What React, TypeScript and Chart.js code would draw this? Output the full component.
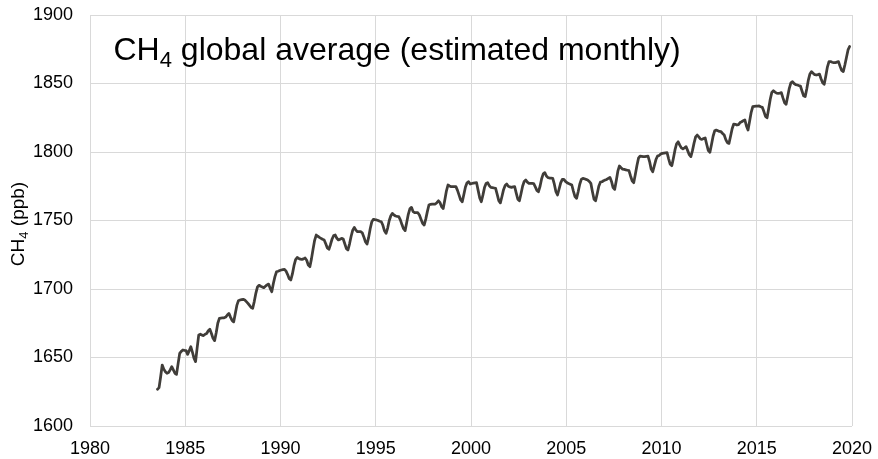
import React, { useEffect, useRef } from "react";
import { Chart, registerables } from "chart.js";

Chart.register(...registerables);

// Monthly CH4 global average (ppb), starting July 1983
const startYear = 1983;
const startMonth = 7;

const ch4_1980s = [
  1626.8, 1628, 1636, 1644.5, 1641.5, 1639.6,
  1638.5, 1639, 1641, 1643.3, 1641, 1638.5, 1637.7, 1645.5, 1653, 1654.5, 1655.5, 1655.2,
  1655, 1652.3, 1655, 1657.9, 1654, 1649.5, 1647, 1657, 1666.5, 1667, 1666.3, 1666,
  1667, 1667.5, 1669.5, 1670.6, 1667.5, 1664, 1662.3, 1668, 1675, 1678.6, 1678.8, 1679,
  1679, 1679.5, 1681, 1682.2, 1679.5, 1677, 1676, 1682, 1688, 1691.5, 1692, 1692.3,
  1692.5, 1692, 1690.8, 1689.5, 1688, 1686.5, 1685.9, 1691, 1697, 1701.5, 1702.7, 1702,
  1701.5, 1701, 1702, 1703, 1703.6, 1700.5, 1698, 1704, 1709, 1712.6, 1713, 1713.5,
];

const ch4_1990s = [
  1713.9, 1714.2, 1714.4, 1713, 1710.5, 1707.5, 1706.6, 1711, 1717, 1721.5, 1723, 1722.3,
  1721.8, 1721.6, 1722, 1722.6, 1721, 1717.5, 1716.3, 1722, 1729, 1735.5, 1739.4, 1738.5,
  1737.7, 1737, 1736.3, 1735.8, 1733, 1730, 1729, 1732.5, 1736.5, 1739, 1739.4, 1737,
  1735.8, 1736.3, 1737, 1736.5, 1733, 1729.5, 1728.5, 1733, 1738.5, 1743, 1745, 1743,
  1741.8, 1741.8, 1741.8, 1741, 1738, 1734.5, 1732.8, 1737.5, 1744, 1749, 1750.9, 1750.6,
  1750.4, 1750, 1749.5, 1749.1, 1746.5, 1742.5, 1740.6, 1744.5, 1750, 1753.5, 1755.2, 1754,
  1753.3, 1753, 1752.8, 1750.5, 1747, 1744, 1742.6, 1748.5, 1754.5, 1758.5, 1759.6, 1756.5,
  1755.7, 1755.7, 1755.7, 1754, 1751, 1748, 1746.7, 1751, 1756.5, 1761.3, 1761.8, 1762,
  1762, 1762, 1763, 1764.4, 1763, 1760, 1758.8, 1765, 1771.5, 1775.9, 1775.2, 1774.7,
  1774.7, 1774.7, 1774.7, 1772, 1768.5, 1765, 1763.7, 1769, 1774.5, 1777.5, 1778.3, 1776.6,
];

const ch4_2000s = [
  1777, 1777.3, 1777.5, 1777.6, 1772, 1766.5, 1763.7, 1768.5, 1774, 1777, 1777.6, 1775.5,
  1774.2, 1774, 1773.7, 1773.4, 1769, 1764.5, 1762.9, 1767.5, 1772.5, 1775.5, 1776.6, 1775,
  1774.5, 1774.2, 1774.5, 1774.7, 1770, 1765.5, 1764.4, 1769.5, 1775, 1778.5, 1779.6, 1778,
  1777.1, 1777.1, 1777.1, 1777, 1774.5, 1772, 1771, 1775, 1780.5, 1784, 1784.9, 1782.5,
  1781.3, 1781, 1780.9, 1780.8, 1776.5, 1771, 1768.6, 1773, 1777.5, 1780, 1780, 1778.5,
  1777.6, 1777, 1776.5, 1775.9, 1771.5, 1767.5, 1766.2, 1771, 1776.5, 1780, 1780.8, 1780.5,
  1780, 1779.6, 1778.5, 1777.1, 1771, 1765.5, 1764.4, 1769.5, 1775, 1778, 1778.3, 1779,
  1779.5, 1780, 1780.8, 1781.5, 1778.5, 1774, 1772.7, 1779, 1786, 1789.8, 1788.5, 1787.5,
  1787.3, 1787, 1786.7, 1786.4, 1782.5, 1779, 1777.6, 1783.5, 1790, 1795.5, 1797, 1796.8,
  1796.6, 1796.6, 1796.8, 1797, 1793, 1787.5, 1785.6, 1790, 1794.5, 1797, 1797.5, 1798.5,
];

const ch4_2010s = [
  1799, 1799.2, 1799.4, 1799.5, 1795, 1791, 1790, 1795.5, 1801.5, 1806, 1807.5, 1805,
  1803, 1802.3, 1803, 1803.9, 1801, 1798, 1796.6, 1801, 1806.5, 1811, 1812.4, 1811,
  1809.5, 1809.2, 1809.8, 1810.3, 1805.5, 1801, 1799.8, 1805.5, 1811.5, 1815.5, 1816, 1815.5,
  1815, 1814.8, 1813.5, 1812.4, 1809, 1806.8, 1806.3, 1811.5, 1817, 1820.4, 1820.2, 1819.7,
  1820, 1821.5, 1822.1, 1822.8, 1823.4, 1819, 1816, 1822.5, 1829, 1833.1, 1833.3, 1833.4,
  1833.5, 1833.6, 1833, 1832.6, 1829.5, 1826, 1825, 1831.5, 1838.5, 1843.5, 1844.7, 1843.7,
  1843, 1842.8, 1843, 1843.3, 1839.5, 1836, 1834.8, 1840.5, 1846.5, 1850.5, 1851.3, 1850,
  1849.2, 1848.9, 1848.5, 1848.2, 1844.5, 1841, 1840.4, 1846, 1852.5, 1857, 1858.7, 1857.5,
  1856.5, 1856.2, 1856.5, 1856.9, 1853.5, 1850.5, 1849.4, 1855.5, 1862, 1866, 1866, 1865.5,
  1865.2, 1865.2, 1865.6, 1866, 1862.5, 1859.5, 1858.7, 1863.5, 1869, 1874.5, 1877,
];

const xTicks = [1980, 1985, 1990, 1995, 2000, 2005, 2010, 2015, 2020];
const yTicks = [1600, 1650, 1700, 1750, 1800, 1850, 1900];

const titleParts: [string, boolean][] = [
  ["CH", false],
  ["4", true],
  [" global average (estimated monthly)", false],
];
const yTitleParts: [string, boolean][] = [
  ["CH", false],
  ["4", true],
  [" (ppb)", false],
];

const FONT = "'Liberation Sans', Arial, Helvetica, sans-serif";

function drawParts(
  ctx: CanvasRenderingContext2D,
  parts: [string, boolean][],
  x: number,
  y: number,
  size: number,
  subSize: number,
  subDy: number,
  align: "left" | "center"
) {
  const widths = parts.map(([t, sub]) => {
    ctx.font = `${sub ? subSize : size}px ${FONT}`;
    return ctx.measureText(t).width;
  });
  const total = widths.reduce((a, b) => a + b, 0);
  let cx = align === "center" ? x - total / 2 : x;
  ctx.textAlign = "left";
  ctx.textBaseline = "alphabetic";
  parts.forEach(([t, sub], i) => {
    ctx.font = `${sub ? subSize : size}px ${FONT}`;
    ctx.fillText(t, cx, sub ? y + subDy : y);
    cx += widths[i];
  });
}

const textPlugin = {
  id: "textPlugin",
  afterDraw(chart: any) {
    const ctx: CanvasRenderingContext2D = chart.ctx;
    ctx.save();
    ctx.fillStyle = "#000000";
    drawParts(ctx, titleParts, 113.5, 59.5, 32, 22, 7.5, "left");
    ctx.restore();

    ctx.save();
    ctx.fillStyle = "#000000";
    ctx.translate(24, 224);
    ctx.rotate(-Math.PI / 2);
    drawParts(ctx, yTitleParts, 0, 0, 19, 13, 4, "center");
    ctx.restore();
  },
};

export default function App() {
  const canvasRef = useRef<HTMLCanvasElement | null>(null);

  useEffect(() => {
    const canvas = canvasRef.current;
    if (!canvas) return;
    const values = [...ch4_1980s, ...ch4_1990s, ...ch4_2000s, ...ch4_2010s];
    const points = values.map((v, i) => {
      const m = startMonth - 1 + i;
      return { x: startYear + (m + 0.5) / 12, y: v };
    });

    const chart = new Chart(canvas, {
      type: "line",
      data: {
        datasets: [
          {
            data: points,
            borderColor: "#403d39",
            borderWidth: 2.75,
            pointRadius: 0,
            pointHoverRadius: 0,
            tension: 0,
            fill: false,
            borderJoinStyle: "round",
            borderCapStyle: "round",
          },
        ],
      },
      options: {
        responsive: false,
        animation: false,
        devicePixelRatio: 1,
        layout: { padding: { left: 0, top: 15, right: 26, bottom: 0 } },
        plugins: {
          legend: { display: false },
          tooltip: { enabled: false },
          title: { display: false },
        },
        scales: {
          x: {
            type: "linear",
            min: 1980,
            max: 2020,
            afterBuildTicks: (scale: any) => {
              scale.ticks = xTicks.map((v) => ({ value: v }));
            },
            afterFit: (scale: any) => {
              scale.height = 33;
              scale.paddingLeft = 0;
              scale.paddingRight = 0;
              scale.paddingTop = 0;
              scale.paddingBottom = 0;
            },
            grid: { color: "#d9d9d9", lineWidth: 1, drawTicks: false },
            border: { display: false },
            ticks: {
              color: "#000000",
              font: { family: FONT, size: 18 },
              padding: 12,
              maxRotation: 0,
              autoSkip: false,
              callback: (v: any) => String(v),
            },
          },
          y: {
            type: "linear",
            min: 1600,
            max: 1900,
            afterBuildTicks: (scale: any) => {
              scale.ticks = yTicks.map((v) => ({ value: v }));
            },
            afterFit: (scale: any) => {
              scale.width = 90;
              scale.paddingLeft = 0;
              scale.paddingRight = 0;
              scale.paddingTop = 0;
              scale.paddingBottom = 0;
            },
            grid: { color: "#d9d9d9", lineWidth: 1, drawTicks: false },
            border: { display: false },
            ticks: {
              color: "#000000",
              font: { family: FONT, size: 18 },
              padding: 17,
              autoSkip: false,
              callback: (v: any) => String(v),
            },
          },
        },
      },
      plugins: [textPlugin],
    } as any);

    return () => chart.destroy();
  }, []);

  return (
    <div style={{ position: "fixed", left: 0, top: 0, width: 878, height: 459, background: "#ffffff" }}>
      <canvas ref={canvasRef} width={878} height={459} style={{ display: "block" }} />
    </div>
  );
}
